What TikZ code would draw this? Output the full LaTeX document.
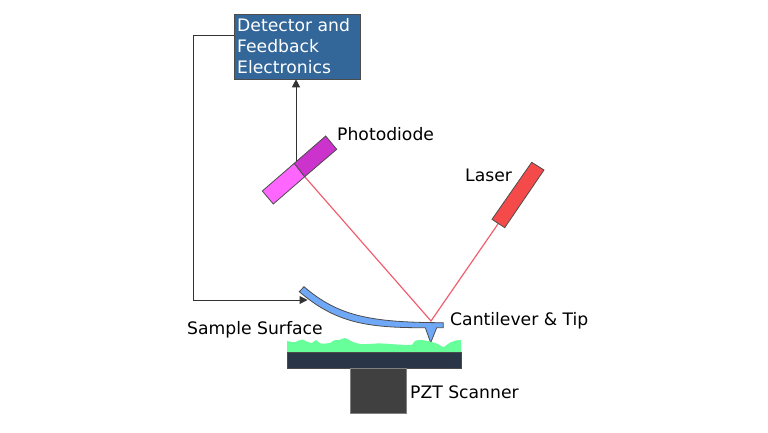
\documentclass[tikz,border=0pt]{standalone}
\usepackage{fontspec}
\setmainfont{DejaVu Sans}
\usetikzlibrary{arrows.meta}
\definecolor{boxblue}{HTML}{336699}
\definecolor{canti}{HTML}{70A8F8}
\definecolor{grn}{HTML}{66FF99}
\definecolor{darkbase}{HTML}{2B3548}
\definecolor{pztc}{HTML}{404040}
\definecolor{pdlight}{HTML}{FF66FF}
\definecolor{pddark}{HTML}{CC33CC}
\definecolor{laserc}{HTML}{F54A4A}
\definecolor{beamc}{HTML}{F06070}
\tikzset{
  x=1pt,y=-1pt,
  lab/.style={font=\fontsize{17.2}{21}\selectfont,inner sep=0pt,anchor=base west},
  conn/.style={draw=black!80,line width=1pt,-{Triangle[length=8pt,width=8pt]}},
  beam/.style={draw=beamc,line width=1.2pt},
  edge/.style={draw=black!70,line width=0.8pt}
}
\begin{document}
\begin{tikzpicture}
\useasboundingbox (0,0) rectangle (768,432);
\fill[white] (0,0) rectangle (768,432);
% beam
\coordinate (spot) at (431,321);
\coordinate (laserend) at (498.3,223.5);
\coordinate (pdspot) at (304.7,176.7);
\draw[beam] (laserend) -- (spot) -- (pdspot);
% detector box and connectors
\node[draw=black!70,fill=boxblue,line width=0.6pt,minimum width=126pt,minimum height=65pt,inner sep=0pt] (det) at (297,46.5) {};
\node[lab,text=white] (dett1) at (237,31) {Detector and};
\node[lab,text=white] (dett2) at (237,52) {Feedback};
\node[lab,text=white] (dett3) at (237,73) {Electronics};
\coordinate (c1) at (193,35.5);
\coordinate (c2) at (193,300);
\coordinate (c3) at (307.5,300);
\coordinate (pdtop) at (296,163);
\draw[conn] (det.west |- c1) -- (c1) -- (c2) -- (c3);
\draw[conn] (pdtop) -- (pdtop |- det.south);
% photodiode
\draw[edge,fill=pdlight] (294.3,163.3) -- (304.7,176.7) -- (273.3,204) -- (262.3,191) -- cycle;
\draw[edge,fill=pddark] (294.3,163.3) -- (325.7,136) -- (336.7,149.3) -- (304.7,176.7) -- cycle;
% laser
\draw[edge,fill=laserc] (531.7,162.3) -- (544,170) -- (504.7,227.7) -- (492,219.3) -- cycle;
% cantilever
\draw[edge,fill=canti] (304,286.7) .. controls (338,316) and (370,322.5) .. (443.3,322.7)
  -- (443.3,327.7) -- (436.7,327.7) -- (430.7,342.7) -- (425.3,327.7)
  .. controls (365,328) and (335,322) .. (299.3,291.7) -- cycle;
% sample surface
\fill[grn] (287,341) .. controls (290,341.5) and (293,342.5) .. (295,342.3)
  .. controls (298,341.5) and (299,339.5) .. (302,339.5)
  .. controls (305,340) and (308,343) .. (312,343)
  .. controls (314,342) and (315,340) .. (316,340)
  .. controls (318,340) and (318,343) .. (320,343.3)
  .. controls (324,344) and (328,343.5) .. (331,342.5)
  .. controls (334,340) and (336,339.5) .. (339,340)
  .. controls (342,339) and (344,338) .. (345,338)
  .. controls (348,339) and (352,342) .. (356,343)
  .. controls (362,345) and (368,344) .. (376,343.5)
  .. controls (385,343) and (395,345) .. (412,345)
  .. controls (414,341) and (416,340) .. (420,340)
  .. controls (426,340) and (432,342) .. (438,344)
  .. controls (441,345) and (441,347.5) .. (444,347)
  .. controls (448,344) and (452,340) .. (461,340)
  -- (461,352) -- (287,352) -- cycle;
\node[draw=black!70,fill=darkbase,line width=0.5pt,minimum width=174pt,minimum height=15.5pt,inner sep=0pt] (base) at (374,360) {};
\node[draw=black!50,fill=pztc,line width=0.5pt,minimum width=56pt,minimum height=45.5pt,inner sep=0pt] (pzt) at (378,390.5) {};
% labels
\node[lab] (l1) at (337,140) {Photodiode};
\node[lab] (l2) at (465,181.5) {Laser};
\node[lab] (l3) at (450,325) {Cantilever \& Tip};
\node[lab] (l4) at (187,334) {Sample Surface};
\node[lab] (l5) at (410,398) {PZT Scanner};
\end{tikzpicture}
\end{document}
